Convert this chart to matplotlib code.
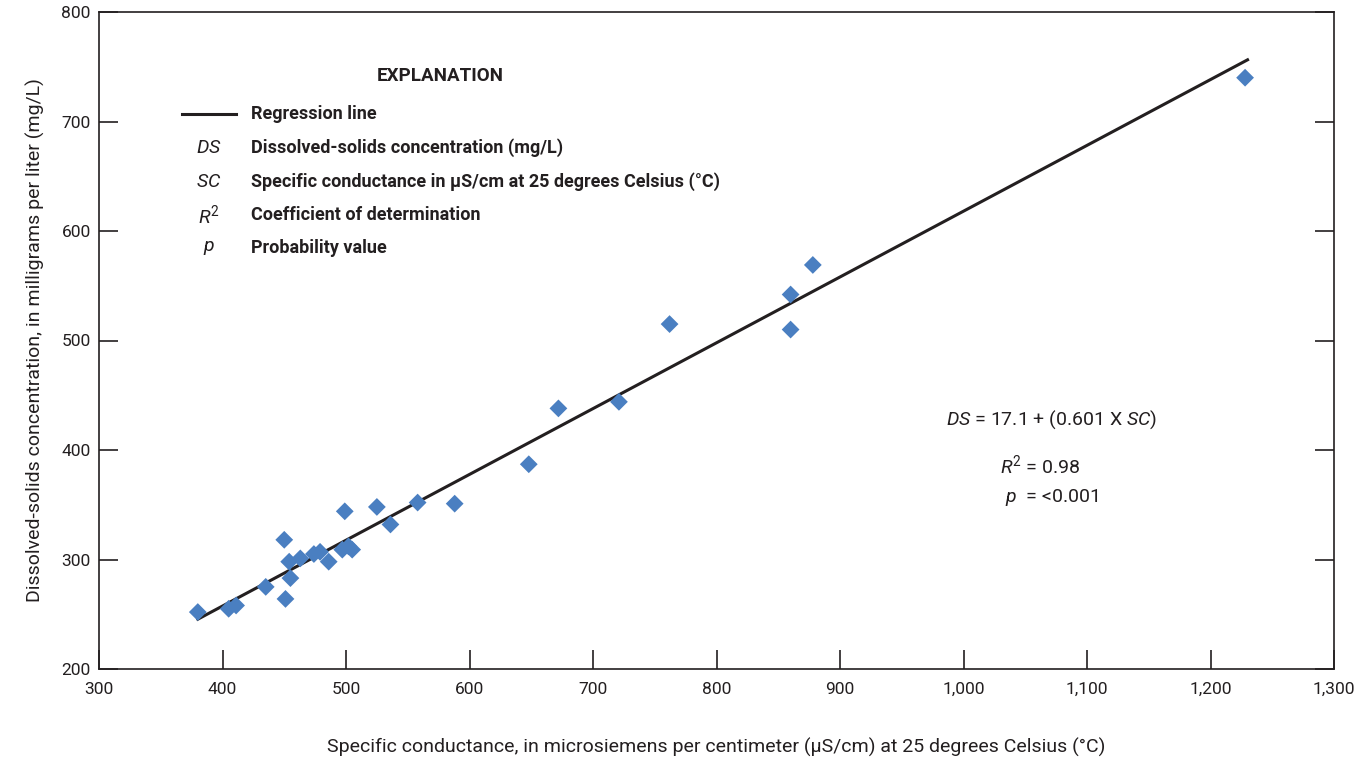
import matplotlib
matplotlib.use("Agg")
import matplotlib.pyplot as plt
from matplotlib.lines import Line2D

plt.rcParams['font.family'] = ['Roboto', 'DejaVu Sans']
plt.rcParams['mathtext.fontset'] = 'custom'
plt.rcParams['mathtext.rm'] = 'Roboto'
plt.rcParams['mathtext.it'] = 'Roboto:italic'

sc = [380, 405, 411, 435, 450, 451, 454, 455, 463, 474, 479, 486, 497, 499, 502,
      505, 525, 536, 558, 588, 648, 672, 721, 762, 860, 860, 878, 1228]
ds = [252, 255, 258, 275, 318, 264, 298, 283, 301, 305, 307, 298, 309, 344, 312,
      309, 348, 332, 352, 351, 387, 438, 444, 515, 542, 510, 569, 740]
intercept = 17.1
slope = 0.601
line_x = [380, 1230]
line_y = [intercept + slope * v for v in line_x]

xticks = list(range(300, 1301, 100))
yticks = list(range(200, 801, 100))

fig = plt.figure(figsize=(13.64, 7.63), dpi=100)
ax = fig.add_axes([99/1364, 1-669/763, (1334-99)/1364, (669-12)/763])

ax.plot(line_x, line_y, color='#231f20', lw=2.2, zorder=2)
ax.scatter(sc, ds, marker='D', s=82, color='#4a7fc1', edgecolors='none', zorder=3)

ax.set_xlim(300, 1300)
ax.set_ylim(200, 800)
ax.set_xticks(xticks)
ax.set_xticklabels([f"{v:,}" for v in xticks])
ax.set_yticks(yticks)
ax.tick_params(direction='in', length=14, width=1.2, labelsize=12.5, colors='#231f20',
               left=True, right=True, top=False, bottom=True, pad=9)
ax.tick_params(axis='y', pad=6)
for s in ax.spines.values():
    s.set_linewidth(1.2)
    s.set_color('#231f20')

ax.set_xlabel('Specific conductance, in microsiemens per centimeter (µS/cm) at 25 degrees Celsius (°C)',
              fontsize=14, color='#231f20', labelpad=30)
ax.set_ylabel('Dissolved-solids concentration, in milligrams per liter (mg/L)',
              fontsize=14, color='#231f20', labelpad=12)

def px(x, y):
    return (x/1364, 1 - y/763)

tc = '#231f20'
fig.text(*px(440, 76), 'EXPLANATION', fontsize=13.5, fontweight='bold', ha='center', va='center', color=tc)
fig.add_artist(Line2D([182/1364, 236/1364], [1-114/763, 1-114/763], color=tc, lw=2.2))
items = [
    (114, None, 'Regression line'),
    (148, r'$\mathit{DS}$', 'Dissolved-solids concentration (mg/L)'),
    (182, r'$\mathit{SC}$', 'Specific conductance in µS/cm at 25 degrees Celsius (°C)'),
    (215, r'$\mathit{R}^2$', 'Coefficient of determination'),
    (248, r'$\mathit{p}$', 'Probability value'),
]
for y, sym, label in items:
    if sym:
        fig.text(*px(209, y), sym, fontsize=14, ha='center', va='center', color=tc)
    fig.text(*px(251, y), label, fontsize=13, fontweight='bold', ha='left', va='center', color=tc)

fig.text(*px(1052, 420), r'$\mathit{DS}$ = 17.1 + (0.601 X $\mathit{SC}$)', fontsize=14, ha='center', va='center', color=tc)
fig.text(*px(1040, 465), r'$\mathit{R}^2$ = 0.98', fontsize=14, ha='center', va='center', color=tc)
fig.text(*px(1052, 497), r'$\mathit{p}$  = <0.001', fontsize=14, ha='center', va='center', color=tc)

fig.savefig('out.png', dpi=100)
